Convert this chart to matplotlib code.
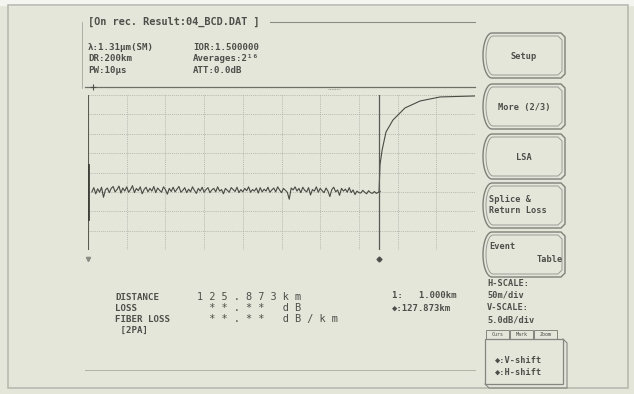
import matplotlib.pyplot as plt
import numpy as np
from matplotlib.patches import Polygon, Rectangle

# ---- data ----
# backscatter trace, x in horizontal divisions, y in vertical divisions
noise_x_start = 0.10
noise_x_step = 0.05
noise_y = [
    3.00, 3.22, 2.90, 3.16, 2.98, 3.24, 2.72, 3.10, 3.20, 2.96,
    3.18, 3.28, 3.00, 3.12, 3.30, 2.94, 3.20, 3.04, 3.26, 2.98,
    3.12, 3.32, 2.96, 3.18, 3.06, 3.26, 2.90, 3.12, 3.24, 3.00,
    3.18, 3.04, 3.28, 2.96, 3.20, 3.08, 2.98, 3.26, 3.12, 2.88,
    3.18, 3.02, 3.24, 3.00, 3.14, 3.28, 2.98, 3.08, 3.22, 2.96,
    3.14, 3.00, 3.26, 3.08, 2.92, 3.18, 3.04, 3.24, 2.98, 3.12,
    3.22, 2.96, 3.10, 3.18, 3.00, 3.26, 3.04, 3.12, 2.90, 3.18,
    3.08, 2.98, 3.22, 3.12, 3.02, 3.24, 2.96, 3.12, 3.00, 3.18,
    3.06, 3.26, 2.98, 3.12, 3.04, 3.20, 2.94, 3.22, 3.00, 3.14,
    3.04, 3.24, 2.98, 3.10, 3.20, 3.00, 3.26, 3.10, 2.96, 3.18,
    3.08, 2.98, 2.62, 3.20, 3.10, 3.26, 3.04, 3.18, 2.96, 3.24,
    3.08, 3.00, 3.22, 2.84, 3.12, 3.04, 3.26, 2.98, 3.18, 3.06,
    2.96, 3.20, 3.04, 2.76, 3.12, 3.24, 3.00, 3.10, 2.82, 3.18,
    3.04, 3.14, 2.98, 3.22, 2.96, 3.10, 2.86, 3.04, 2.96, 2.94,
    3.08, 2.98, 2.90, 3.06, 2.96, 2.92, 3.02, 2.92, 2.98, 3.02,
]
rise_x = [7.52, 7.545, 7.60, 7.70, 7.88, 8.19, 8.58, 9.10, 10.0]
rise_y = [3.00, 4.39, 5.16, 6.09, 6.71, 7.33, 7.69, 7.90, 7.95]
cursor_x = 7.52
start_x = 0.0

header = "[On rec. Result:04_BCD.DAT ]"
info_left = ["\u03bb:1.31\u03bcm(SM)", "DR:200km", "PW:10\u03bcs"]
info_right = ["IOR:1.500000", "Averages:2\u00b9\u2076", "ATT:0.0dB"]
meas_labels = ["DISTANCE", "LOSS", "FIBER LOSS", " [2PA]"]
meas_values = ["1 2 5 . 8 7 3 k m", "  * * . * *   d B", "  * * . * *   d B / k m", ""]
cursor_info = ["1:   1.000km", "\u25c6:127.873km"]
buttons = ["Setup", "More (2/3)", "LSA", "Splice &\nReturn Loss", "Event"]
scale_info = ["H-SCALE:", "50m/div", "V-SCALE:", "5.0dB/div"]
tabs = ["Curs", "Mark", "Zoom"]
shift_info = ["\u25c6:V-shift", "\u25c6:H-shift"]

BG = "#e4e6da"
INK = "#4e4f4a"
FONT = "DejaVu Sans Mono"

W, H = 634, 394
fig = plt.figure(figsize=(W / 100, H / 100), dpi=100, facecolor=BG)
ax = fig.add_axes([0, 0, 1, 1])
ax.set_xlim(0, W)
ax.set_ylim(H, 0)
ax.axis("off")

# screen frame
ax.add_patch(Rectangle((0, 0), W, 5, color="#f4f5f0", zorder=0))
ax.add_patch(Rectangle((8, 5), 620, 383, fill=False, edgecolor="#b8bab0", lw=1.2))

# header and info block
ax.text(88, 22, header, fontsize=7.4, family=FONT, weight="bold", color=INK, va="center")
ax.plot([270, 475], [22, 22], color="#8a8b84", lw=0.8)
ax.plot([82, 82], [22, 88], color="#a5a69e", lw=0.6)
for i, (a, b) in enumerate(zip(info_left, info_right)):
    y = 47 + i * 11.5
    ax.text(88, y, a, fontsize=6.6, family=FONT, weight="bold", color=INK, va="center")
    ax.text(193, y, b, fontsize=6.6, family=FONT, weight="bold", color=INK, va="center")
ax.plot([85, 475], [87, 87], color="#6e6f68", lw=0.9)
ax.plot([93], [87], marker="+", ms=4, color=INK, mew=0.8)
ax.plot([328, 340], [89, 89], color="#8a8b84", lw=0.6, ls=(0, (1, 1)))

# trace area
tx0, tx1, ty0, ty1 = 88, 475, 95, 250
tax = fig.add_axes([tx0 / W, 1 - ty1 / H, (tx1 - tx0) / W, (ty1 - ty0) / H])
tax.set_facecolor("none")
tax.set_xlim(0, 10)
tax.set_ylim(0, 8)
for s in tax.spines.values():
    s.set_visible(False)
tax.set_xticks(np.arange(0, 11))
tax.set_yticks(np.arange(0, 9))
tax.tick_params(length=0, labelbottom=False, labelleft=False)
tax.grid(True, color="#a9aba2", lw=0.5, ls=(0, (1.5, 1.5)))

nx = noise_x_start + noise_x_step * np.arange(len(noise_y))
tax.plot(nx, noise_y, color="#4a4b44", lw=0.8)
tax.plot(rise_x, rise_y, color="#4a4b44", lw=0.8)
tax.axvline(start_x, color="#5a5b54", lw=0.8)
tax.plot([start_x, start_x], [1.6, 4.4], color="#3e3f3a", lw=2.0)
tax.axvline(cursor_x, color="#5a5b54", lw=0.9)

ax.plot([88], [259], marker="v", ms=3, color="#8a8b84")
ax.plot([379], [259], marker="D", ms=2.5, color=INK)

# measurement readout
for i, (lab, val) in enumerate(zip(meas_labels, meas_values)):
    y = 297 + i * 11.2
    ax.text(115, y, lab, fontsize=6.6, family=FONT, weight="bold", color=INK, va="center")
    if val:
        ax.text(197, y, val, fontsize=7.4, family=FONT, color=INK, va="center")
for i, t in enumerate(cursor_info):
    ax.text(392, 296 + i * 12, t, fontsize=6.4, family=FONT, weight="bold", color=INK, va="center")
ax.plot([85, 475], [370, 370], color="#b1b3aa", lw=0.7)


# soft-key buttons: straight right side, rounded tab on the left
def button_path(x0, x1, y0, y1, r_left):
    h = y1 - y0
    ang = np.linspace(-np.pi / 2, np.pi / 2, 30)
    arc_x = x0 + r_left - r_left * np.cos(ang)
    arc_y = y0 + h / 2 - (h / 2) * np.sin(ang)
    pts = [(x1 - 4, y0), (x1, y0 + 4), (x1, y1 - 4), (x1 - 4, y1)]
    pts += list(zip(arc_x, arc_y))
    return pts


btn_top = [33, 84, 134, 183, 232]
for top, label in zip(btn_top, buttons):
    bot = top + 45
    ax.add_patch(Polygon(button_path(483, 565, top, bot, 9), closed=True,
                         fill=False, edgecolor="#7f8079", lw=1.0))
    ax.add_patch(Polygon(button_path(486, 562, top + 3, bot - 3, 7), closed=True,
                         fill=False, edgecolor="#9a9b94", lw=0.7))
    if "\n" in label:
        ax.text(489, top + 22, label, fontsize=6.2, family=FONT, weight="bold",
                color=INK, va="center", linespacing=1.4)
    elif label == "Event":
        ax.text(489, top + 14, label, fontsize=6.2, family=FONT, weight="bold",
                color=INK, va="center")
        ax.text(563, top + 27, "Table", fontsize=6.2, family=FONT, weight="bold",
                color=INK, va="center", ha="right")
    else:
        ax.text(524, top + 23, label, fontsize=6.2, family=FONT, weight="bold",
                color=INK, va="center", ha="center")

for i, t in enumerate(scale_info):
    ax.text(487, 283 + i * 12.2, t, fontsize=6.2, family=FONT, weight="bold", color=INK, va="center")

# shift box with tabs
for i, t in enumerate(tabs):
    x = 486 + i * 24
    ax.add_patch(Rectangle((x, 330), 23, 9, fill=False, edgecolor="#85867f", lw=0.7))
    ax.text(x + 11.5, 334.5, t, fontsize=3.6, family=FONT, color=INK, ha="center", va="center")
ax.add_patch(Rectangle((485, 339), 78, 45, fill=False, edgecolor="#85867f", lw=0.9))
ax.plot([563, 567, 567, 489, 485], [339, 343, 388, 388, 384], color="#85867f", lw=0.8)
for i, t in enumerate(shift_info):
    ax.text(495, 360 + i * 12, t, fontsize=6.2, family=FONT, weight="bold", color=INK, va="center")

fig.savefig("out.png", dpi=100, facecolor=BG)
